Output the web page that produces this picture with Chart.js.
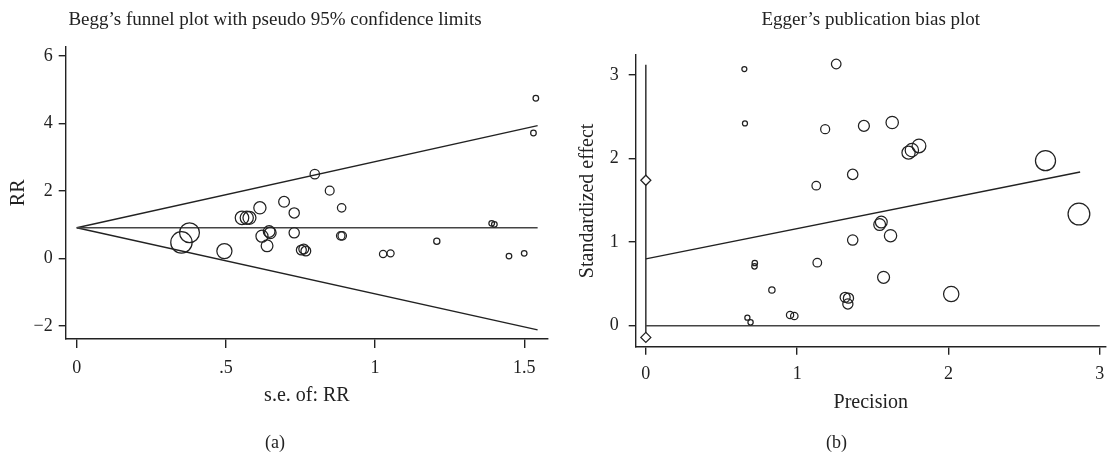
<!DOCTYPE html>
<html>
<head>
<meta charset="utf-8">
<script src="https://cdn.jsdelivr.net/npm/chart.js@4/dist/chart.umd.min.js"></script>
<style>
  body { margin: 0; background: #fff; }
  .panel { position: absolute; top: 0; }
</style>
</head>
<body>
<canvas id="begg" class="panel" width="560" height="460" style="left:0"></canvas>
<canvas id="egger" class="panel" width="558" height="460" style="left:560px"></canvas>
<script>
// Begg's funnel: standard error and RR of each study
const beggSE = [0.351, 0.378, 0.495, 0.554, 0.570, 0.579, 0.614, 0.695, 0.729, 0.621,
                0.638, 0.645, 0.649, 0.729, 0.753, 0.761, 0.768, 0.798, 0.848, 0.888,
                0.885, 0.890, 1.027, 1.052, 1.207, 1.391, 1.400, 1.449, 1.500, 1.531, 1.539];
const beggRR = [0.475, 0.76, 0.217, 1.205, 1.205, 1.205, 1.50, 1.68, 1.35, 0.66,
                0.375, 0.80, 0.76, 0.76, 0.25, 0.28, 0.22, 2.50, 2.01, 1.50,
                0.67, 0.67, 0.13, 0.15, 0.51, 1.04, 1.01, 0.07, 0.15, 3.72, 4.75];
const pooledRR = 0.91;
const funnelSEMax = 1.545;
const beggTicksX = [0, 0.5, 1, 1.5];
const beggTicksY = [-2, 0, 2, 4, 6];

// Egger's plot: precision vs standardized effect
const eggerPrec = [0.651, 0.655, 1.258, 1.185, 1.367, 1.126, 1.367, 0.720, 0.718, 1.133,
                   0.833, 0.953, 0.981, 0.671, 0.692, 1.317, 1.339, 1.335, 1.441, 1.628,
                   1.736, 1.758, 1.805, 2.641, 2.862, 1.545, 1.556, 1.617, 1.571, 2.018];
const eggerEff = [3.07, 2.42, 3.13, 2.35, 1.81, 1.675, 1.025, 0.75, 0.71, 0.754,
                  0.427, 0.128, 0.116, 0.096, 0.04, 0.34, 0.33, 0.26, 2.39, 2.43,
                  2.07, 2.10, 2.15, 1.974, 1.336, 1.21, 1.24, 1.077, 0.579, 0.379];
const eggerIntercept = 0.80;
const eggerSlope = 0.362;
const eggerPrecMax = 2.87;
const interceptCI = [-0.14, 1.74];
const ciLineTop = 3.12;
const eggerTicksX = [0, 1, 2, 3];
const eggerTicksY = [0, 1, 2, 3];

const SERIF = "'Liberation Serif', 'Times New Roman', serif";
const INK = '#222';

function fmtTick(v) {
  if (v < 0) return '\u2212' + Math.abs(v);
  if (v > 0 && v < 1) return String(v).replace(/^0/, '');
  return String(v);
}

function axis(opts) {
  return {
    type: 'linear',
    position: opts.position,
    min: opts.min,
    max: opts.max,
    afterBuildTicks: s => { s.ticks = opts.ticks.map(v => ({ value: v })); },
    afterFit: s => {
      if (opts.position === 'left') s.width = opts.size;
      else s.height = opts.size;
    },
    border: { display: true, color: INK, width: 1.4 },
    grid: { drawOnChartArea: false, drawTicks: true, tickLength: opts.tickLength, color: INK, lineWidth: 1.4 },
    ticks: {
      color: INK, padding: opts.tickPad, maxRotation: 0, autoSkip: false,
      font: { family: SERIF, size: 18 },
      callback: fmtTick
    },
    title: {
      display: true, text: opts.title, color: INK,
      font: { family: SERIF, size: 20 },
      padding: opts.titlePad
    }
  };
}

function lineSet(points, color) {
  return {
    data: points, showLine: true, pointRadius: 0, borderColor: color,
    borderWidth: 1.4, fill: false, order: 2
  };
}

function plugins(title, titlePad, fullSize, caption) {
  return {
    legend: { display: false },
    tooltip: { enabled: false },
    title: {
      display: true, text: title, color: INK, fullSize: fullSize,
      font: { family: SERIF, size: 19, weight: 'normal' }, padding: titlePad
    },
    subtitle: {
      display: true, text: caption, position: 'bottom', color: INK,
      font: { family: SERIF, size: 18 }, padding: { top: 17.5, bottom: 5.9 }
    }
  };
}

// Begg's funnel plot
const beggPoints = beggSE.map((se, i) => ({ x: se, y: beggRR[i] }));
new Chart(document.getElementById('begg'), {
  type: 'scatter',
  data: {
    datasets: [
      lineSet([{ x: 0, y: pooledRR }, { x: funnelSEMax, y: pooledRR }], '#444'),
      lineSet([{ x: 0, y: pooledRR }, { x: funnelSEMax, y: pooledRR + 1.96 * funnelSEMax }], INK),
      lineSet([{ x: 0, y: pooledRR }, { x: funnelSEMax, y: pooledRR - 1.96 * funnelSEMax }], INK),
      {
        data: beggPoints, order: 1,
        pointStyle: 'circle', backgroundColor: 'rgba(0,0,0,0)',
        borderColor: INK, borderWidth: 1.25,
        pointRadius: ctx => Math.max(2.8, 3.75 / beggSE[ctx.dataIndex])
      }
    ]
  },
  options: {
    responsive: false, animation: false, devicePixelRatio: 1,
    layout: { padding: { left: 0, right: 10, top: 0, bottom: 0 } },
    plugins: plugins('Begg\u2019s funnel plot with pseudo 95% confidence limits',
                     { top: 8.6, bottom: 15.3 }, true, '(a)'),
    scales: {
      x: axis({ position: 'bottom', min: -0.037, max: 1.58, ticks: beggTicksX, size: 76,
                tickLength: 9, tickPad: 9, title: 's.e. of: RR', titlePad: { top: 0, bottom: 7 } }),
      y: axis({ position: 'left', min: -2.39, max: 6.28, ticks: beggTicksY, size: 65.7,
                tickLength: 7, tickPad: 6, title: 'RR', titlePad: { top: 6.3, bottom: 0 } })
    }
  }
});

// Egger's publication bias plot
const eggerPoints = eggerPrec.map((p, i) => ({ x: p, y: eggerEff[i] }));
new Chart(document.getElementById('egger'), {
  type: 'scatter',
  data: {
    datasets: [
      lineSet([{ x: 0, y: 0 }, { x: 3, y: 0 }], '#444'),
      lineSet([{ x: 0, y: interceptCI[0] }, { x: 0, y: ciLineTop }], INK),
      lineSet([{ x: 0, y: eggerIntercept }, { x: eggerPrecMax, y: eggerIntercept + eggerSlope * eggerPrecMax }], INK),
      {
        data: interceptCI.map(v => ({ x: 0, y: v })), order: 1,
        pointStyle: 'rectRot', pointRadius: 5, backgroundColor: '#fff',
        borderColor: INK, borderWidth: 1.25
      },
      {
        data: eggerPoints, order: 1,
        pointStyle: 'circle', backgroundColor: 'rgba(0,0,0,0)',
        borderColor: INK, borderWidth: 1.25,
        pointRadius: ctx => Math.max(2.5, 3.8 * eggerPrec[ctx.dataIndex])
      }
    ]
  },
  options: {
    responsive: false, animation: false, devicePixelRatio: 1,
    layout: { padding: { left: 0, right: 5, top: 0, bottom: 0 } },
    plugins: plugins('Egger\u2019s publication bias plot', { top: 8.6, bottom: 23.6 }, false, '(b)'),
    scales: {
      x: axis({ position: 'bottom', min: -0.067, max: 3.04, ticks: eggerTicksX, size: 68.3,
                tickLength: 8, tickPad: 9, title: 'Precision', titlePad: { top: 0, bottom: 0 } }),
      y: axis({ position: 'left', min: -0.251, max: 3.238, ticks: eggerTicksY, size: 75.7,
                tickLength: 7, tickPad: 10, title: 'Standardized effect', titlePad: { top: 16, bottom: 0 } })
    }
  }
});
</script>
</body>
</html>
